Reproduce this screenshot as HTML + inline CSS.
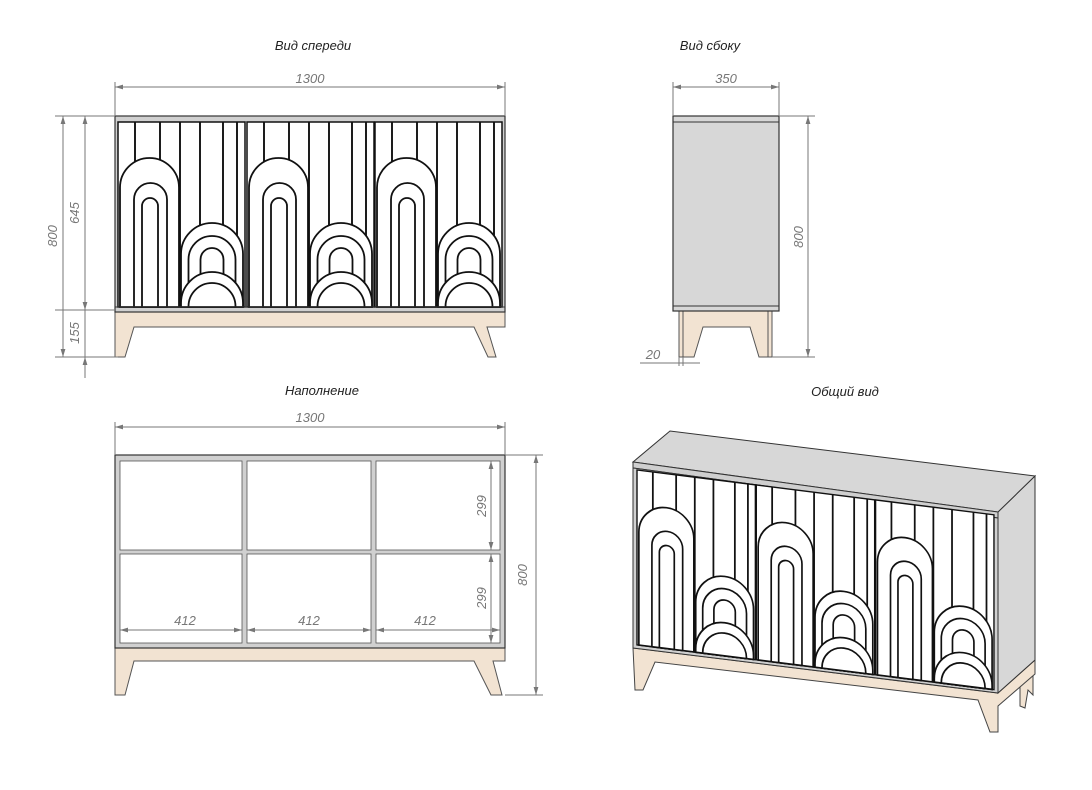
<!DOCTYPE html>
<html><head><meta charset="utf-8"><style>
body{margin:0;background:#fff}
svg{display:block}
text{font-family:"Liberation Sans",sans-serif;font-style:italic}
.t{font-size:13px;fill:#222}
.d{font-size:13px;fill:#777}
.dl{stroke:#777;stroke-width:1;fill:none}
</style></head><body>
<svg width="1092" height="790" viewBox="0 0 1092 790" xmlns="http://www.w3.org/2000/svg">
<defs>
<marker id="a" viewBox="0 0 10 6" refX="10" refY="3" markerWidth="8" markerHeight="5" orient="auto-start-reverse"><path d="M0,0L10,3L0,6z" fill="#777"/></marker>
<g id="door">
  <rect x="0" y="0" width="127" height="185" fill="#fff" stroke="#111" stroke-width="1.5"/>
  <g stroke="#111" stroke-width="1.9">
    <line x1="17" y1="0" x2="17" y2="185"/><line x1="42" y1="0" x2="42" y2="185"/>
    <line x1="62" y1="0" x2="62" y2="185"/><line x1="82" y1="0" x2="82" y2="185"/>
    <line x1="105" y1="0" x2="105" y2="185"/><line x1="119" y1="0" x2="119" y2="185"/>
  </g>
  <g fill="#fff" stroke="#111" stroke-width="1.8">
    <path d="M2,185V65.5A29.5,29.5 0 0 1 61,65.5V185z"/>
    <path d="M16,185V77.5A16.5,16.5 0 0 1 49,77.5V185z"/>
    <path d="M24,185V84A8,8 0 0 1 40,84V185z"/>
    <path d="M63,185V132A31,31 0 0 1 125,132V185z"/>
    <path d="M70.5,185V137.5A23.5,23.5 0 0 1 117.5,137.5V185z"/>
    <path d="M82.5,185V137.5A11.5,11.5 0 0 1 105.5,137.5V185z"/>
    <path d="M63,185V181A31,31 0 0 1 125,181V185z"/>
    <path d="M70.5,185V184.5A23.5,23.5 0 0 1 117.5,184.5V185z"/>
  </g>
</g>
</defs>

<text class="t" x="313" y="50" text-anchor="middle">Вид спереди</text>
<text class="t" x="710" y="50" text-anchor="middle">Вид сбоку</text>
<text class="t" x="322" y="395" text-anchor="middle">Наполнение</text>
<text class="t" x="845" y="396" text-anchor="middle">Общий вид</text>

<!-- FRONT VIEW -->
<path d="M115,312H505V327H487L496,357H488L474,327H134L125,357H115z" fill="#f2e3d2" stroke="#555" stroke-width="1"/>
<rect x="115" y="116" width="390" height="196" fill="#d0d0d0" stroke="#333" stroke-width="1.2"/>
<rect x="118" y="122" width="384" height="185" fill="#fff"/>
<use href="#door" x="118" y="122"/>
<use href="#door" x="247" y="122"/>
<use href="#door" x="375" y="122"/>
<line x1="115" y1="307" x2="505" y2="307" stroke="#333"/>
<line class="dl" x1="115" y1="116" x2="115" y2="82"/><line class="dl" x1="505" y1="116" x2="505" y2="82"/>
<line class="dl" x1="115" y1="87" x2="505" y2="87" marker-start="url(#a)" marker-end="url(#a)"/>
<text class="d" x="310" y="83" text-anchor="middle">1300</text>
<line class="dl" x1="55" y1="116" x2="115" y2="116"/><line class="dl" x1="55" y1="310" x2="115" y2="310"/><line class="dl" x1="55" y1="357" x2="118" y2="357"/>
<line class="dl" x1="63" y1="116" x2="63" y2="357" marker-start="url(#a)" marker-end="url(#a)"/>
<line class="dl" x1="85" y1="116" x2="85" y2="310" marker-start="url(#a)" marker-end="url(#a)"/>
<line class="dl" x1="85" y1="378" x2="85" y2="357" marker-end="url(#a)"/>
<line class="dl" x1="85" y1="310" x2="85" y2="357"/>
<text class="d" transform="translate(57 236) rotate(-90)" text-anchor="middle">800</text>
<text class="d" transform="translate(79 213) rotate(-90)" text-anchor="middle">645</text>
<text class="d" transform="translate(79 333) rotate(-90)" text-anchor="middle">155</text>

<!-- SIDE VIEW -->
<path d="M679,311H772V357H759L750,327H703L694,357H679z" fill="#f2e3d2" stroke="#555"/>
<line x1="683" y1="311" x2="683" y2="357" stroke="#555"/><line x1="768" y1="311" x2="768" y2="357" stroke="#555"/>
<rect x="673" y="116" width="106" height="195" fill="#d7d7d7" stroke="#333" stroke-width="1.2"/>
<line x1="673" y1="122" x2="779" y2="122" stroke="#333"/><line x1="673" y1="306" x2="779" y2="306" stroke="#333"/>
<line class="dl" x1="673" y1="116" x2="673" y2="82"/><line class="dl" x1="779" y1="116" x2="779" y2="82"/>
<line class="dl" x1="673" y1="87" x2="779" y2="87" marker-start="url(#a)" marker-end="url(#a)"/>
<text class="d" x="726" y="83" text-anchor="middle">350</text>
<line class="dl" x1="779" y1="116" x2="815" y2="116"/><line class="dl" x1="772" y1="357" x2="815" y2="357"/>
<line class="dl" x1="808" y1="116" x2="808" y2="357" marker-start="url(#a)" marker-end="url(#a)"/>
<text class="d" transform="translate(803 237) rotate(-90)" text-anchor="middle">800</text>
<line class="dl" x1="679" y1="357" x2="679" y2="366"/><line class="dl" x1="683" y1="357" x2="683" y2="366"/>
<line class="dl" x1="640" y1="363" x2="700" y2="363"/>
<text class="d" x="653" y="359" text-anchor="middle">20</text>

<!-- FILLING VIEW -->
<path d="M115,648H505V661H493L502,695H491L474,661H134L125,695H115z" fill="#f2e3d2" stroke="#555"/>
<rect x="115" y="455" width="390" height="193" fill="#d0d0d0" stroke="#333" stroke-width="1.2"/>
<rect x="120" y="461" width="122" height="89" fill="#fff" stroke="#555" stroke-width=".8"/>
<rect x="247" y="461" width="124" height="89" fill="#fff" stroke="#555" stroke-width=".8"/>
<rect x="376" y="461" width="124" height="89" fill="#fff" stroke="#555" stroke-width=".8"/>
<rect x="120" y="554" width="122" height="89" fill="#fff" stroke="#555" stroke-width=".8"/>
<rect x="247" y="554" width="124" height="89" fill="#fff" stroke="#555" stroke-width=".8"/>
<rect x="376" y="554" width="124" height="89" fill="#fff" stroke="#555" stroke-width=".8"/>
<line class="dl" x1="115" y1="455" x2="115" y2="422"/><line class="dl" x1="505" y1="455" x2="505" y2="422"/>
<line class="dl" x1="115" y1="427" x2="505" y2="427" marker-start="url(#a)" marker-end="url(#a)"/>
<text class="d" x="310" y="422" text-anchor="middle">1300</text>
<line class="dl" x1="505" y1="455" x2="543" y2="455"/><line class="dl" x1="505" y1="695" x2="543" y2="695"/>
<line class="dl" x1="536" y1="455" x2="536" y2="695" marker-start="url(#a)" marker-end="url(#a)"/>
<text class="d" transform="translate(527 575) rotate(-90)" text-anchor="middle">800</text>
<line class="dl" x1="491" y1="461" x2="491" y2="550" marker-start="url(#a)" marker-end="url(#a)"/>
<line class="dl" x1="491" y1="554" x2="491" y2="643" marker-start="url(#a)" marker-end="url(#a)"/>
<text class="d" transform="translate(486 506) rotate(-90)" text-anchor="middle">299</text>
<text class="d" transform="translate(486 598) rotate(-90)" text-anchor="middle">299</text>
<line class="dl" x1="120" y1="630" x2="242" y2="630" marker-start="url(#a)" marker-end="url(#a)"/>
<line class="dl" x1="247" y1="630" x2="371" y2="630" marker-start="url(#a)" marker-end="url(#a)"/>
<line class="dl" x1="376" y1="630" x2="500" y2="630" marker-start="url(#a)" marker-end="url(#a)"/>
<text class="d" x="185" y="625" text-anchor="middle">412</text>
<text class="d" x="309" y="625" text-anchor="middle">412</text>
<text class="d" x="425" y="625" text-anchor="middle">412</text>

<!-- 3D VIEW -->
<path d="M1020,670L1020,706L1025,708L1028,690L1033,695L1033,662z" fill="#f2e3d2" stroke="#444"/>
<path d="M633,648L998,693L1035,660L1035,674L998,706L998,732L990,732L978,700L655,662L643,690L635,690z" fill="#f2e3d2" stroke="#444"/>
<polygon points="998,512 1035,476 1035,660 998,693" fill="#d7d7d7" stroke="#333"/>
<polygon points="633,462 670,431 1035,476 998,512" fill="#d7d7d7" stroke="#333"/>
<polygon points="633,462 998,512 998,518 633,468" fill="#cfcfcf" stroke="#333"/>
<polygon points="633,468 998,518 998,693 633,648" fill="#d0d0d0" stroke="#333"/>
<g transform="matrix(0.932 0.117 0 0.945 637 470)">
  <use href="#door" x="0" y="0"/>
  <use href="#door" x="128" y="0"/>
  <use href="#door" x="256" y="0"/>
</g>
</svg>
</body></html>
